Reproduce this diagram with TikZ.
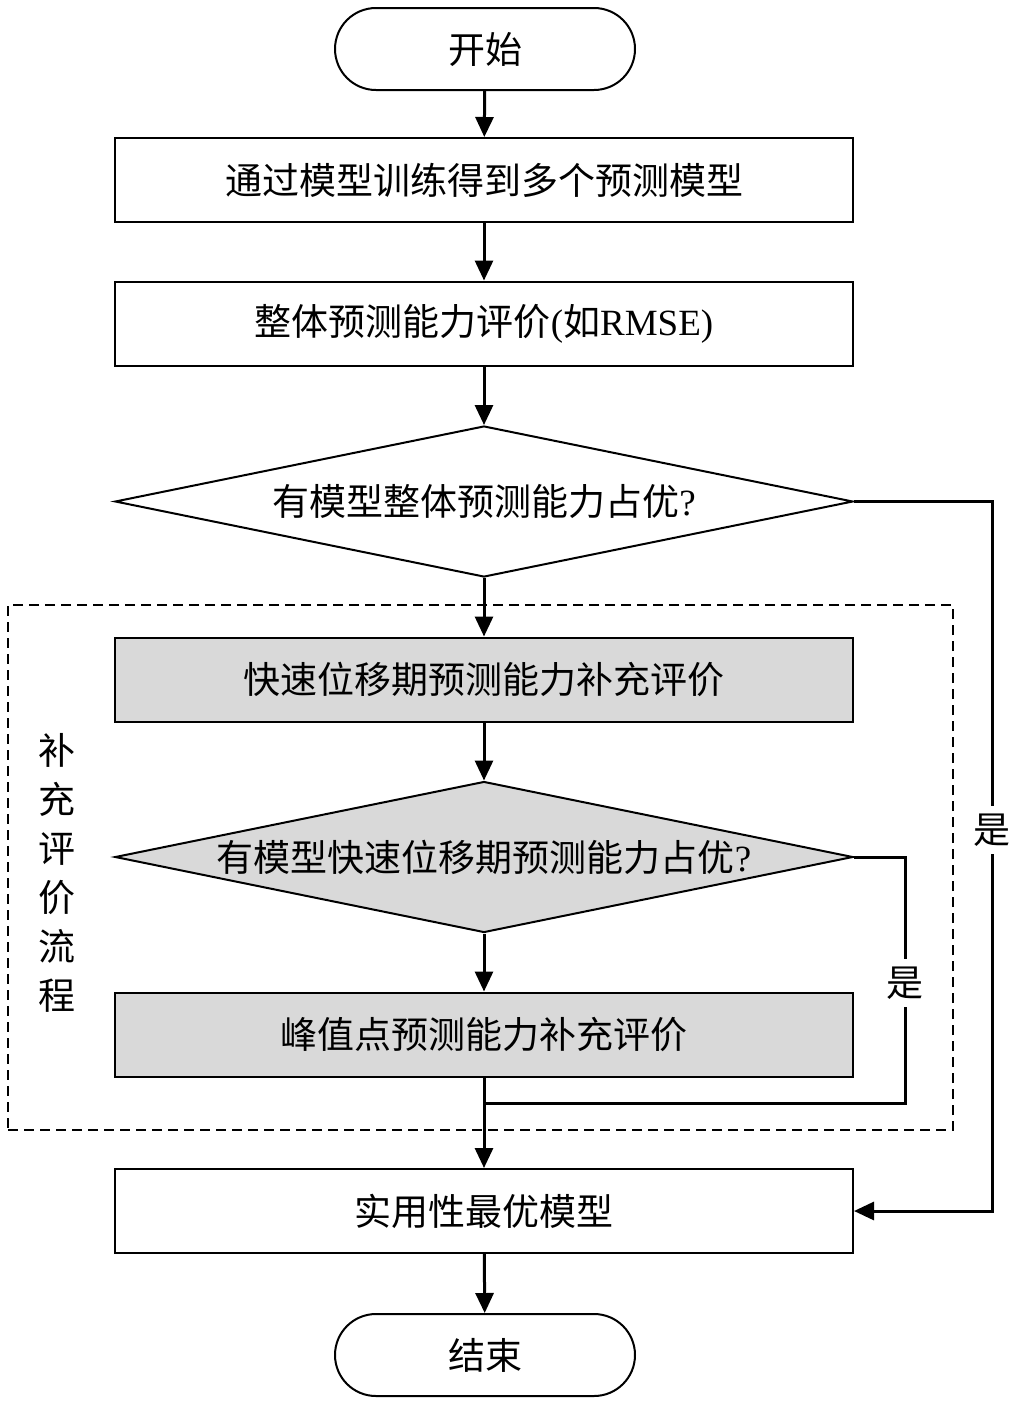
\documentclass[tikz,border=0pt]{standalone}
\usepackage{fontspec}
\setmainfont{Liberation Serif}
\newfontfamily\cjk{Noto Sans CJK SC}
\usetikzlibrary{shapes.geometric,arrows.meta}
\definecolor{boxgray}{HTML}{D9D9D9}
\begin{document}
\begin{tikzpicture}[x=1pt,y=-1pt,
 every node/.style={font=\cjk\fontsize{37}{49}\selectfont},
 box/.style={draw,line width=2pt,minimum width=738pt,minimum height=84pt,inner sep=0pt},
 gbox/.style={box,fill=boxgray},
 term/.style={draw,line width=2pt,rounded corners=41pt,minimum width=300pt,minimum height=82pt,inner sep=0pt},
 dec/.style={draw,line width=2pt,diamond,aspect=4.9,minimum width=738pt,minimum height=151pt,inner sep=0pt},
 arr/.style={line width=3pt,-{Triangle[width=18pt,length=20pt]}},
 ln/.style={line width=3pt},
 lab/.style={fill=white,inner sep=8pt}]
\useasboundingbox (0,0) rectangle (1013,1403);
\node[draw,dash pattern=on 10pt off 6pt,line width=2pt,minimum width=945pt,minimum height=525pt,inner sep=0pt] (grp) at (480.5,867.5) {};
\node[term] (start) at (485,49) {开始};
\node[box] (b1) at (484,180) {通过模型训练得到多个预测模型};
\node[box] (b2) at (484,323.5) {整体预测能力评价{\rmfamily(}如{\rmfamily RMSE)}};
\node[dec] (d1) at (484,501.5) {有模型整体预测能力占优{\rmfamily ?}};
\node[gbox] (b3) at (484,679.5) {快速位移期预测能力补充评价};
\node[dec,fill=boxgray] (d2) at (484,857) {有模型快速位移期预测能力占优{\rmfamily ?}};
\node[gbox] (b4) at (484,1034.5) {峰值点预测能力补充评价};
\node[box] (b5) at (484,1211) {实用性最优模型};
\node[term] (end) at (485,1355) {结束};
\node[align=center,inner sep=0pt] (side) at (57,873) {补\\充\\评\\价\\流\\程};
\coordinate (r1) at (992,830);
\coordinate (r2) at (905,983);
\coordinate (j) at (485,1103);
\draw[arr] (start) -- (b1);
\draw[arr] (b1) -- (b2);
\draw[arr] (b2) -- (d1);
\draw[arr] (d1) -- (b3);
\draw[arr] (b3) -- (d2);
\draw[arr] (d2) -- (b4);
\draw[arr] (b4) -- (b5);
\draw[arr] (b5) -- (end);
\draw[ln] (d2.east) -| (r2) node[lab] (y2) {是} |- (j);
\draw[arr] (d1.east) -| (r1) node[lab] (y1) {是} |- (b5.east);
\end{tikzpicture}
\end{document}
